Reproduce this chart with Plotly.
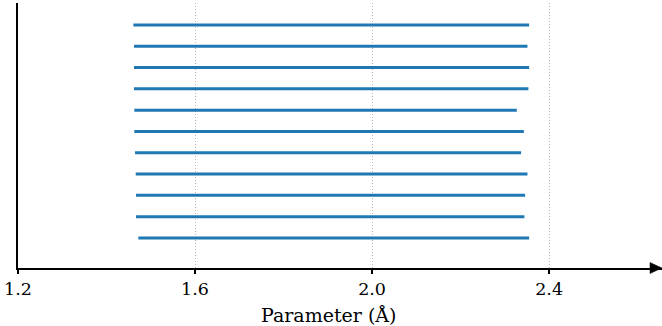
import plotly.graph_objects as go

# Rows listed top to bottom (row index 10 at top, 0 at bottom)
row_index = [10, 9, 8, 7, 6, 5, 4, 3, 2, 1, 0]
start_values = [1.4606, 1.4621, 1.4621, 1.4621, 1.4628, 1.4628, 1.4644, 1.4660, 1.4667, 1.4667, 1.4719]
end_values = [2.3548, 2.3510, 2.3548, 2.3532, 2.3270, 2.3428, 2.3367, 2.3510, 2.3458, 2.3442, 2.3548]
tick_vals = [1.2, 1.6, 2.0, 2.4]
tick_text = ["1.2", "1.6", "2.0", "2.4"]
x_title = "Parameter (Å)"

xs, ys = [], []
for r, s, e in zip(row_index, start_values, end_values):
    xs += [s, e, None]
    ys += [r, r, None]

fig = go.Figure()
fig.add_trace(go.Scatter(x=xs, y=ys, mode="lines",
                         line=dict(color="#1f77b4", width=3),
                         hoverinfo="skip", showlegend=False))

font = dict(family="DejaVu Serif", size=17.5, color="black")
fig.update_layout(
    width=662, height=326,
    margin=dict(l=18, r=0, t=3, b=58, autoexpand=False),
    paper_bgcolor="white", plot_bgcolor="white",
    font=font,
    showlegend=False,
    xaxis=dict(range=[1.2, 2.655], tickvals=tick_vals, ticktext=tick_text,
               showgrid=True, gridcolor="#b8b8b8", griddash="1px,2px", gridwidth=1,
               showline=True, linecolor="black", linewidth=2,
               ticks="outside", ticklen=4, tickwidth=1.5, tickcolor="black",
               zeroline=False, tickfont=font, automargin=False),
    yaxis=dict(range=[-1.41, 11.03], showgrid=False, showticklabels=False,
               ticks="", showline=True, linecolor="black", linewidth=2,
               zeroline=False, automargin=False),
)

# Axis title placed slightly left of centre, as in the reference
fig.add_annotation(text=x_title, xref="paper", yref="paper",
                   x=(328.5 - 18) / 644, y=-(302 - 268) / 265,
                   xanchor="center", yanchor="top", showarrow=False,
                   font=dict(family="DejaVu Serif", size=19, color="black"))

# Arrowhead at the right end of the x axis (paper coordinates)
dx = 12 / 644
dy = 5.5 / 265
fig.add_shape(type="path", xref="paper", yref="paper",
              path=f"M {1-dx},{dy} L 1,0 L {1-dx},{-dy} Z",
              fillcolor="black", line=dict(color="black", width=0.5),
              layer="above")

fig.write_html("out.html", config={"displayModeBar": False},
               post_script="document.body.style.margin='0';")
